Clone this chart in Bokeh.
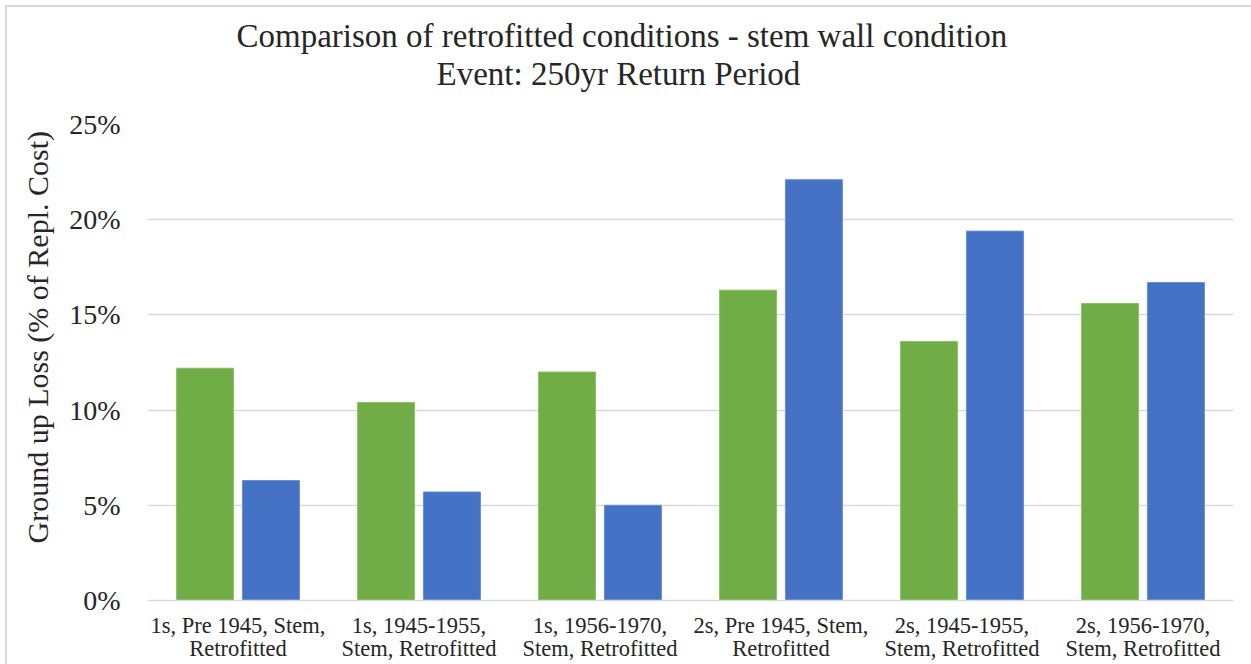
from bokeh.plotting import figure
from bokeh.models import ColumnDataSource, FactorRange, Range1d, NumeralTickFormatter, Title, FixedTicker
from bokeh.transform import dodge
from bokeh.embed import file_html
from bokeh.resources import INLINE

# Categories (building type, era, foundation, condition)
categories = [
    "1s, Pre 1945, Stem,\nRetrofitted",
    "1s, 1945-1955,\nStem, Retrofitted",
    "1s, 1956-1970,\nStem, Retrofitted",
    "2s, Pre 1945, Stem,\nRetrofitted",
    "2s, 1945-1955,\nStem, Retrofitted",
    "2s, 1956-1970,\nStem, Retrofitted",
]
# Ground up loss as fraction of replacement cost
green_series = [0.122, 0.104, 0.120, 0.163, 0.136, 0.156]
blue_series = [0.063, 0.057, 0.050, 0.221, 0.194, 0.167]

y_ticks = [0.0, 0.05, 0.10, 0.15, 0.20, 0.25]

title_line1 = "Comparison of retrofitted conditions - stem wall condition"
title_line2 = "Event: 250yr Return Period"
y_label = "Ground up Loss (% of Repl. Cost)"

SERIF = "Liberation Serif"
TEXT = "#262626"

source = ColumnDataSource(data=dict(cat=categories, green=green_series, blue=blue_series))

p = figure(
    frame_width=1086, frame_height=476,
    x_range=FactorRange(factors=categories),
    y_range=Range1d(0, 0.25),
    output_backend="svg", toolbar_location=None,
    min_border_left=147, min_border_right=18,
    min_border_top=124, min_border_bottom=64,
)
p.x_range.range_padding = 0
p.x_range.factor_padding = 0

p.vbar(x=dodge("cat", -0.182, range=p.x_range), top="green", width=0.315, bottom=0,
       source=source, fill_color="#70AD47", line_color="#8cc06a", line_width=1)
p.vbar(x=dodge("cat", 0.182, range=p.x_range), top="blue", width=0.315, bottom=0,
       source=source, fill_color="#4472C4", line_color="#6a8fd4", line_width=1)

# Axes and grid
p.outline_line_color = None
p.xgrid.grid_line_color = None
p.ygrid.grid_line_color = "#d9d9d9"
p.ygrid.grid_line_width = 1.5

p.yaxis.ticker = FixedTicker(ticks=y_ticks)
p.yaxis.formatter = NumeralTickFormatter(format="0%")
p.yaxis.axis_line_color = None
p.yaxis.major_tick_line_color = None
p.yaxis.minor_tick_line_color = None
p.yaxis.major_label_text_font = SERIF
p.yaxis.major_label_text_font_size = "28px"
p.yaxis.major_label_text_color = TEXT
p.yaxis.major_label_standoff = 21

p.xaxis.axis_line_color = "#d9d9d9"
p.xaxis.axis_line_width = 1.5
p.xaxis.major_tick_line_color = None
p.xaxis.minor_tick_line_color = None
p.xaxis.major_label_text_font = SERIF
p.xaxis.major_label_text_font_size = "22.5px"
p.xaxis.major_label_text_color = TEXT
p.xaxis.major_label_text_line_height = 0.93
p.xaxis.major_label_standoff = 6

# Blank spacer between the plot and the title block
p.add_layout(Title(text=" ", text_font_size="1px", standoff=30), "above")
# Two-line chart title; each later title sits further from the plot
p.add_layout(Title(text=title_line2, align="left", offset=289, standoff=0,
                   text_font=SERIF, text_font_size="33px", text_font_style="normal",
                   text_color=TEXT), "above")
p.add_layout(Title(text=title_line1, align="left", offset=89, standoff=0,
                   text_font=SERIF, text_font_size="33px", text_font_style="normal",
                   text_color=TEXT), "above")

# Rotated y-axis label
p.add_layout(Title(text=y_label, align="left", offset=57, standoff=25,
                   text_font=SERIF, text_font_size="30px", text_font_style="normal",
                   text_color=TEXT), "left")

# Light chart border along the top and left edges
p.border_fill_color = None
p.background_fill_color = "white"
p.styles = {
    "background-color": "white",
    "background-image": "linear-gradient(#d9d9d9,#d9d9d9), linear-gradient(#d9d9d9,#d9d9d9)",
    "background-size": "2px 100%, 100% 2px",
    "background-position": "5px 5px, 5px 5px",
    "background-repeat": "no-repeat",
}

open("out.html", "w").write(file_html(p, INLINE))
